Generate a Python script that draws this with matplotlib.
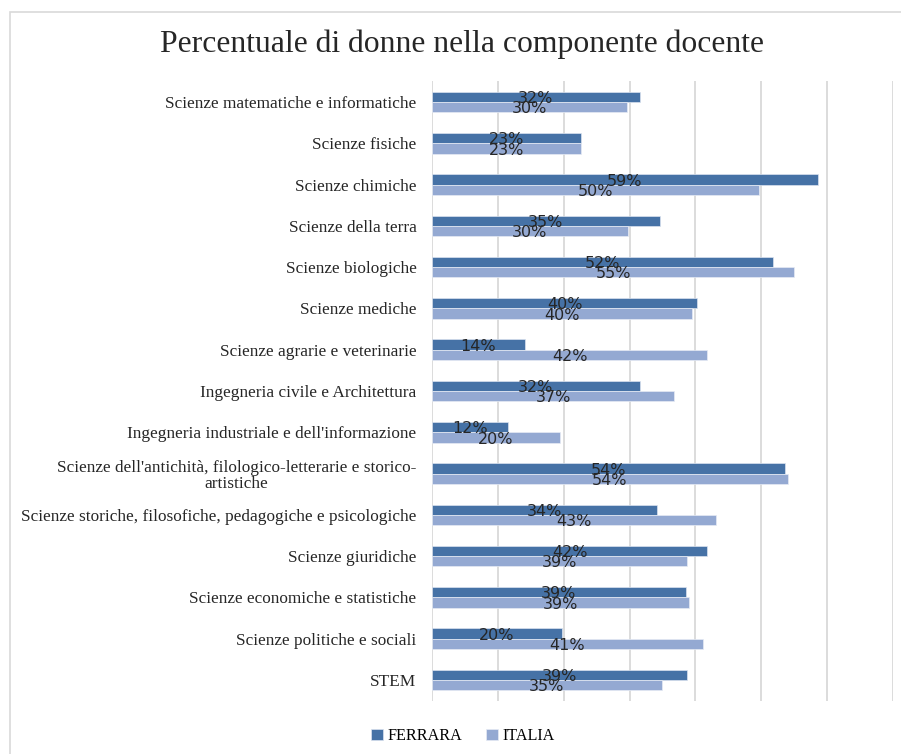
import numpy as np
import matplotlib.pyplot as plt
from matplotlib.patches import Rectangle

# Dati: percentuale di donne nella componente docente
categorie = [
    "Scienze matematiche e informatiche",
    "Scienze fisiche",
    "Scienze chimiche",
    "Scienze della terra",
    "Scienze biologiche",
    "Scienze mediche",
    "Scienze agrarie e veterinarie",
    "Ingegneria civile e Architettura",
    "Ingegneria industriale e dell'informazione",
    "Scienze dell'antichità, filologico-letterarie e storico-\nartistiche",
    "Scienze storiche, filosofiche, pedagogiche e psicologiche",
    "Scienze giuridiche",
    "Scienze economiche e statistiche",
    "Scienze politiche e sociali",
    "STEM",
]
ferrara = [31.6, 22.7, 58.6, 34.6, 51.7, 40.3, 14.1, 31.6, 11.6, 53.6, 34.2, 41.8, 38.6, 19.8, 38.7]
italia = [29.6, 22.6, 49.6, 29.7, 55.0, 39.5, 41.8, 36.8, 19.5, 54.0, 43.1, 38.7, 39.0, 41.2, 34.9]

col_fe = '#4672A6'
col_it = '#94A9D2'
serif = 'Liberation Serif'

fig = plt.figure(figsize=(9.01, 7.54), dpi=100)

# cornice grigia del grafico
fig.patches.append(Rectangle((10 / 901, -0.05), 1.0, 1 - 12 / 754 + 0.05,
                             transform=fig.transFigure, fill=False,
                             edgecolor='#d9d9d9', linewidth=1.2))

ax = fig.add_axes([431.7 / 901, 1 - 700.6 / 754, 461.6 / 901, 619.2 / 754])

y = np.arange(len(categorie))
h = 0.25
b1 = ax.barh(y - h / 2, ferrara, height=h, color=col_fe, edgecolor='#dbe3ef', linewidth=0.5, label='FERRARA', zorder=3)
b2 = ax.barh(y + h / 2, italia, height=h, color=col_it, edgecolor='#e6ebf4', linewidth=0.5, label='ITALIA', zorder=3)

# etichette dei valori al centro delle barre
for bars, vals in ((b1, ferrara), (b2, italia)):
    for rect, v in zip(bars, vals):
        ax.text(v / 2, rect.get_y() + rect.get_height() / 2 + 0.04, f"{round(v):d}%",
                ha='center', va='center', fontsize=11.5, family='DejaVu Sans',
                color='#262626', zorder=4)

ax.set_xlim(0, 70)
ax.set_ylim(len(categorie) - 0.5, -0.5)
ax.set_xticks(np.arange(0, 71, 10))
ax.set_xticklabels([])
ax.tick_params(axis='x', length=0)
ax.set_yticks(y)
ax.set_yticklabels(categorie, fontsize=12.4, family=serif, color='#262626',
                   multialignment='center', linespacing=1.0)
ax.tick_params(axis='y', length=0, pad=11)
ax.grid(axis='x', color='#d9d9d9', linewidth=1.3, zorder=0)
for s in ax.spines.values():
    s.set_visible(False)

fig.text(462 / 901, 1 - 44 / 754, "Percentuale di donne nella componente docente",
         ha='center', va='center', fontsize=22.8, family=serif, color='#262626')

fig.legend(handles=[b1, b2], labels=['FERRARA', 'ITALIA'], loc='center',
           bbox_to_anchor=(463 / 901, 1 - 736 / 754), ncol=2, frameon=False,
           prop={'family': serif, 'size': 11.6}, handlelength=0.7, handleheight=0.7,
           handletextpad=0.3, columnspacing=1.5)

fig.savefig('out.png', dpi=100)
